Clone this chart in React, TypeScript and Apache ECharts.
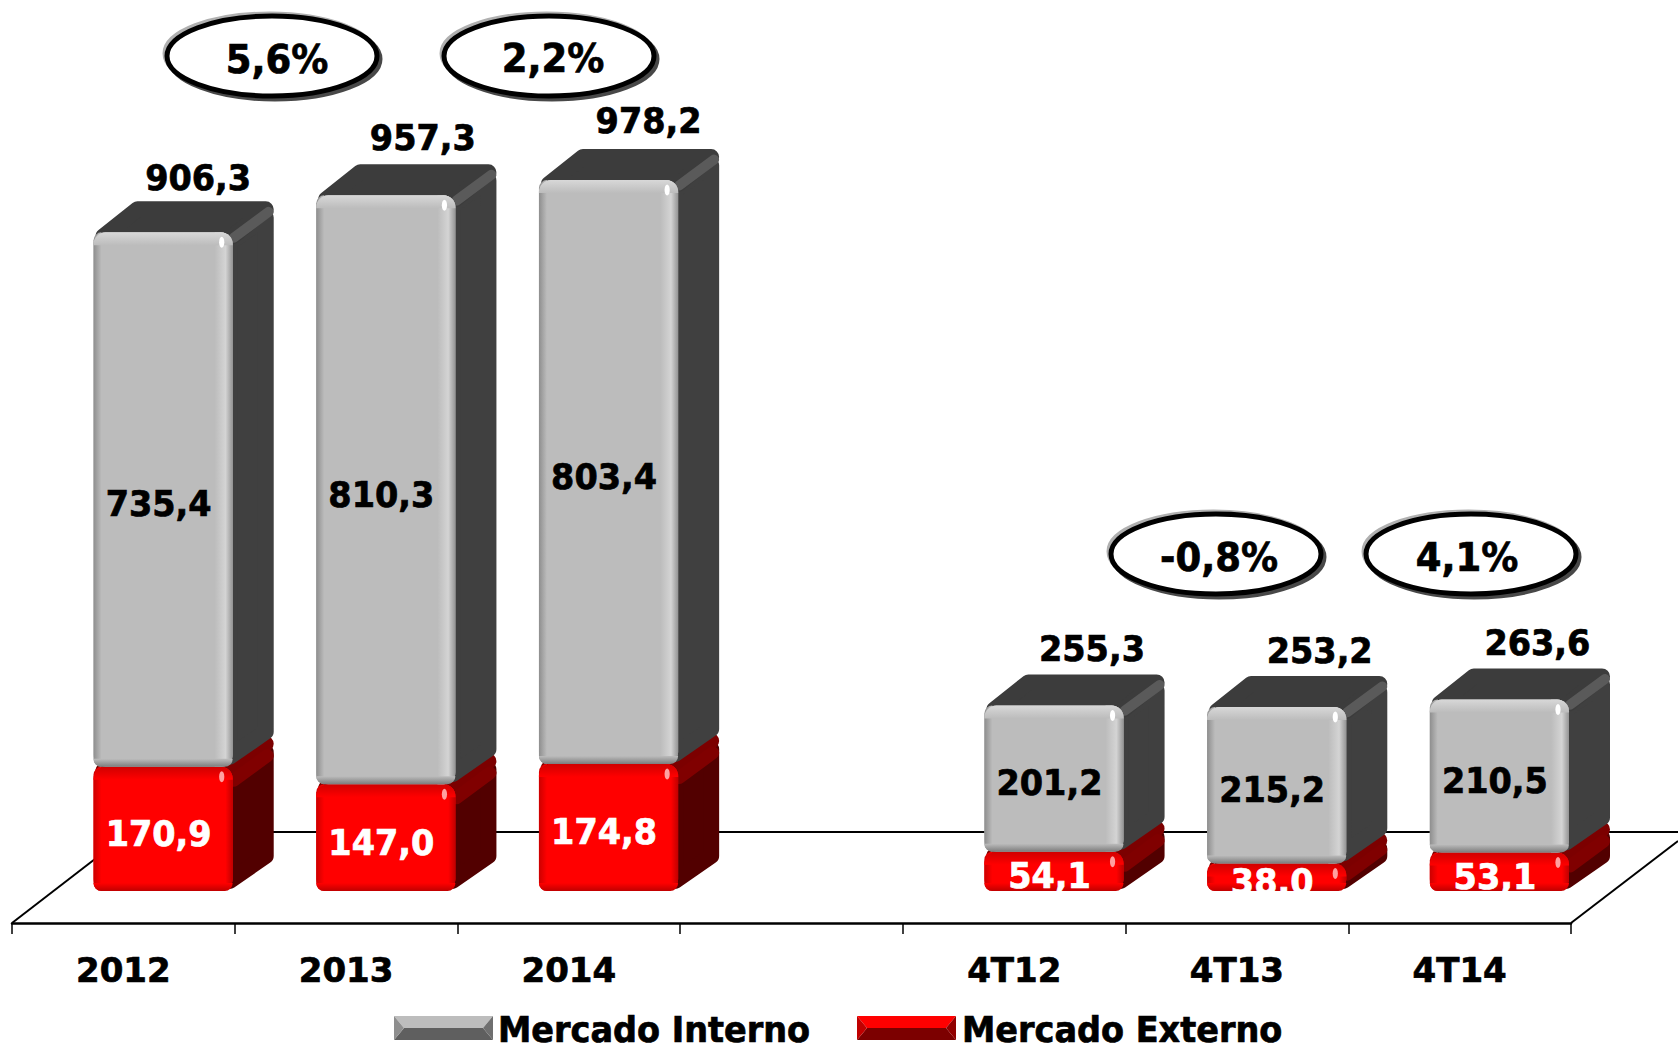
import React, { useEffect, useRef } from "react";
import * as echarts from "echarts";

const categories = ["2012", "2013", "2014", "", "4T12", "4T13", "4T14"];
const mercadoInterno = [735.4, 810.3, 803.4, null, 201.2, 215.2, 210.5];
const mercadoExterno = [170.9, 147.0, 174.8, null, 54.1, 38.0, 53.1];
const totals = [906.3, 957.3, 978.2, null, 255.3, 253.2, 263.6];
const growthLabels = ["5,6%", "2,2%", "-0,8%", "4,1%"];
const seriesNames = ["Mercado Interno", "Mercado Externo"];

// small per-label placement corrections for the totals, in pixels
const totalNudgeX = [-1, 1, 4, 0, 2, 7, 2];
const totalNudgeY = [3, 0, -1, 0, 1, 2, 1];

const FONT = "'DejaVu Sans', Verdana, sans-serif";
const TEXT_STRETCH = 1.07;
const DX = 41;
const DY = 31;
const fmt = (v: number) => v.toFixed(1).replace(".", ",");
const LG = echarts.graphic.LinearGradient;

const PAL: any = {
  gray: {
    base: "#bcbcbc", side: "#404040", top: "#3c3c3c", band: "#5a5a5a",
    left: "#8e8e8e", right: "#949494", rightHi: "#d4d4d4", topHi: "#d8d8d8", bottom: "#7c7c7c",
    glint: "#ffffff", label: "#000000",
  },
  red: {
    base: "#ff0000", side: "#520000", top: "#7c0000", band: "#800000",
    left: "#cc0000", right: "#c00000", rightHi: "#ff0000", topHi: "#d00000", bottom: "#c00000",
    glint: "#ffa0a0", label: "#ffffff",
  },
};

function barRender(kind: "gray" | "red") {
  const p = PAL[kind];
  return (_params: any, api: any) => {
    const cat = api.value(0);
    const from = api.coord([cat, api.value(1)]);
    const to = api.coord([cat, api.value(2)]);
    const band = api.size([1, 0])[0];
    const w = band * 0.625;
    const x2 = from[0] + band / 2 - 2;
    const x1 = x2 - w;
    const yb = from[1];
    const yt = to[1];
    const h = yb - yt;
    const r = Math.min(12, h / 2);
    const sr = Math.min(8, (h - 4) / 2.6);
    const cut = sr * 1.26;
    const slope = DY / DX;
    const children: any[] = [];
    children.push({
      type: "polygon",
      shape: {
        points: [
          [x2 - 3, yt + cut],
          [x2 + DX - sr, yt - DY + slope * sr + cut],
          [x2 + DX - sr, yb - DY + slope * sr - cut],
          [x2 - 3, yb - cut],
        ],
      },
      style: { fill: p.side, stroke: p.side, lineWidth: sr * 2, lineJoin: "round" },
    });
    children.push({
      type: "polygon",
      shape: {
        points: [
          [x1 + 10, yt + 4],
          [x1 + DX + 3, yt - DY + 8],
          [x2 + DX - 8, yt - DY + 8],
          [x2, yt + 4],
        ],
      },
      style: { fill: p.top, stroke: p.top, lineWidth: 16, lineJoin: "round" },
    });
    const bandW = kind === "gray" ? 10 : Math.min(13, h * 0.4);
    const drop = kind === "gray" ? 0 : bandW * 0.55;
    children.push({
      type: "line",
      shape: {
        x1: x2 + 1,
        y1: yt + 2 + bandW / 3 + drop,
        x2: x2 + DX - bandW / 2,
        y2: yt - DY + 3 + bandW * 0.75 + drop,
      },
      style: { stroke: p.band, lineWidth: bandW, lineCap: "round" },
    });
    // front face with soft bevelled edges
    children.push({
      type: "rect",
      shape: { x: x1, y: yt, width: w, height: h, r },
      style: { fill: p.base },
    });
    const strip = (x: number, y: number, sw: number, sh: number, rr: number[], grad: any) => ({
      type: "rect",
      shape: { x, y, width: sw, height: sh, r: rr },
      style: { fill: grad },
    });
    children.push(
      strip(x1, yt, 8, h, [r, 0, 0, r], new LG(0, 0, 1, 0, [
        { offset: 0, color: p.left },
        { offset: 1, color: p.base },
      ]))
    );
    children.push(
      strip(x2 - 18, yt, 18, h, [0, r, r, 0], new LG(0, 0, 1, 0, [
        { offset: 0, color: p.base },
        { offset: 0.6, color: p.rightHi },
        { offset: 1, color: p.right },
      ]))
    );
    children.push(
      strip(x1, yt, w, Math.min(13, h / 2), [r, r, 0, 0], new LG(0, 0, 0, 1, [
        { offset: 0, color: p.topHi },
        { offset: 1, color: p.base },
      ]))
    );
    children.push(
      strip(x1, yb - Math.min(8, h / 2), w, Math.min(8, h / 2), [0, 0, r, r], new LG(0, 0, 0, 1, [
        { offset: 0, color: p.base },
        { offset: 1, color: p.bottom },
      ]))
    );
    children.push({
      type: "ellipse",
      shape: { cx: x2 - 11, cy: yt + 10, rx: 2.6, ry: 5.5 },
      style: { fill: p.glint },
    });
    // value label, cut off by the bar's bottom edge as in the source
    children.push({
      type: "group",
      clipPath: { type: "rect", shape: { x: x1 - 10, y: yt - 20, width: w + 20, height: h + 20 } },
      children: [
        {
          type: "text",
          x: (x1 + x2) / 2 - 4.5,
          y: (yt + yb) / 2 + 4.5,
          scaleY: TEXT_STRETCH,
          style: {
            text: fmt(api.value(2) - api.value(1)),
            fill: p.label,
            stroke: p.label,
            lineWidth: 0.7,
            fontFamily: FONT,
            fontWeight: "bold",
            fontSize: 33.5,
            align: "center",
            verticalAlign: "middle",
          },
        },
      ],
    });
    if (kind === "gray") {
      children.push({
        type: "text",
        x: (x1 + x2) / 2 + 36 + totalNudgeX[cat],
        y: yt - 58 + totalNudgeY[cat],
        scaleY: TEXT_STRETCH,
        style: {
          text: fmt(api.value(3)),
          fill: "#000",
          stroke: "#000",
          lineWidth: 0.7,
          fontFamily: FONT,
          fontWeight: "bold",
          fontSize: 33.5,
          align: "center",
          verticalAlign: "middle",
        },
      });
    }
    return { type: "group", silent: true, children };
  };
}

function ellipseBadge(cx: number, cy: number, text: string, tx: number, ty: number) {
  const e = (dx: number, dy: number, style: any) => ({
    type: "ellipse",
    shape: { cx: cx + dx, cy: cy + dy, rx: 105, ry: 40 },
    style,
  });
  return [
    e(-2.5, -2.5, { fill: "none", stroke: "#b0b0b0", lineWidth: 4 }),
    e(3, 3, { fill: "none", stroke: "#484848", lineWidth: 5 }),
    e(0, 0, { fill: "#fff", stroke: "#000", lineWidth: 5 }),
    {
      type: "text",
      x: tx,
      y: ty,
      scaleY: TEXT_STRETCH,
      style: {
        text,
        fill: "#000",
        stroke: "#000",
        lineWidth: 0.7,
        fontFamily: FONT,
        fontWeight: "bold",
        fontSize: 37,
        align: "center",
        verticalAlign: "middle",
      },
    },
  ];
}

function swatch(x: number, y: number, w: number, h: number, c: string[]) {
  const b = 10;
  const my = y + h / 2;
  const poly = (points: number[][], fill: string) => ({ type: "polygon", shape: { points }, style: { fill } });
  return [
    poly([[x, y], [x + w, y], [x + w - b, my], [x + b, my]], c[0]),
    poly([[x + b, my], [x + w - b, my], [x + w, y + h], [x, y + h]], c[1]),
    poly([[x, y], [x + b, my], [x, y + h]], c[2]),
    poly([[x + w, y], [x + w - b, my], [x + w, y + h]], c[3]),
  ];
}

const legendText = (x: number, text: string) => ({
  type: "text",
  x,
  y: 1030,
  scaleY: TEXT_STRETCH,
  style: {
    text,
    fill: "#000",
    stroke: "#000",
    lineWidth: 0.7,
    fontFamily: FONT,
    fontWeight: "bold",
    fontSize: 33.5,
    align: "left",
    verticalAlign: "middle",
  },
});

const floorLine = (x1: number, y1: number, x2: number, y2: number) => ({
  type: "line",
  shape: { x1, y1, x2, y2 },
  style: { stroke: "#000", lineWidth: 2 },
});

export default function App() {
  const ref = useRef<HTMLDivElement>(null);
  useEffect(() => {
    const chart = echarts.init(ref.current!, undefined, { renderer: "svg" });
    const indices = categories.map((_, i) => i).filter((i) => totals[i] !== null);
    chart.setOption({
      animation: false,
      backgroundColor: "#fff",
      grid: { left: 12, width: 1559, top: 0, height: 923, containLabel: false },
      xAxis: {
        type: "category",
        data: categories,
        boundaryGap: true,
        axisLine: { onZero: false, lineStyle: { color: "#000", width: 2.5 } },
        axisTick: { show: true, length: 11, interval: 0, lineStyle: { color: "#000", width: 1.5 } },
        axisLabel: {
          interval: 0,
          margin: 30,
          color: "#000",
          textBorderColor: "#000",
          textBorderWidth: 0.7,
          fontFamily: FONT,
          fontWeight: "bold",
          fontSize: 34,
        },
      },
      yAxis: { type: "value", min: -44, max: 1226, show: false },
      series: [
        {
          name: seriesNames[1],
          type: "custom",
          clip: false,
          renderItem: barRender("red"),
          encode: { x: 0, y: [1, 2] },
          data: indices.map((i) => [i, 0, mercadoExterno[i]]),
        },
        {
          name: seriesNames[0],
          type: "custom",
          clip: false,
          renderItem: barRender("gray"),
          encode: { x: 0, y: [1, 2] },
          data: indices.map((i) => [i, mercadoExterno[i], (mercadoExterno[i] as number) + (mercadoInterno[i] as number), totals[i]]),
        },
      ],
      graphic: {
        elements: [
          floorLine(12, 923, 130, 832),
          floorLine(130, 832, 1678, 832),
          floorLine(1571, 923, 1678, 841),
          ...ellipseBadge(272, 56, growthLabels[0], 277, 59),
          ...ellipseBadge(549, 56, growthLabels[1], 553, 58),
          ...ellipseBadge(1216, 554, growthLabels[2], 1219, 557),
          ...ellipseBadge(1471, 554, growthLabels[3], 1467, 557),
          ...swatch(394, 1016, 99, 24, ["#bdbdbd", "#5f5f5f", "#8e8e8e", "#6f6f6f"]),
          legendText(498, seriesNames[0]),
          ...swatch(857, 1016, 99, 24, ["#ff0000", "#7c0000", "#c00000", "#900000"]),
          legendText(962, seriesNames[1]),
        ],
      },
    });
    return () => chart.dispose();
  }, []);
  return <div ref={ref} style={{ position: "fixed", left: 0, top: 0, width: 1678, height: 1045 }} />;
}
